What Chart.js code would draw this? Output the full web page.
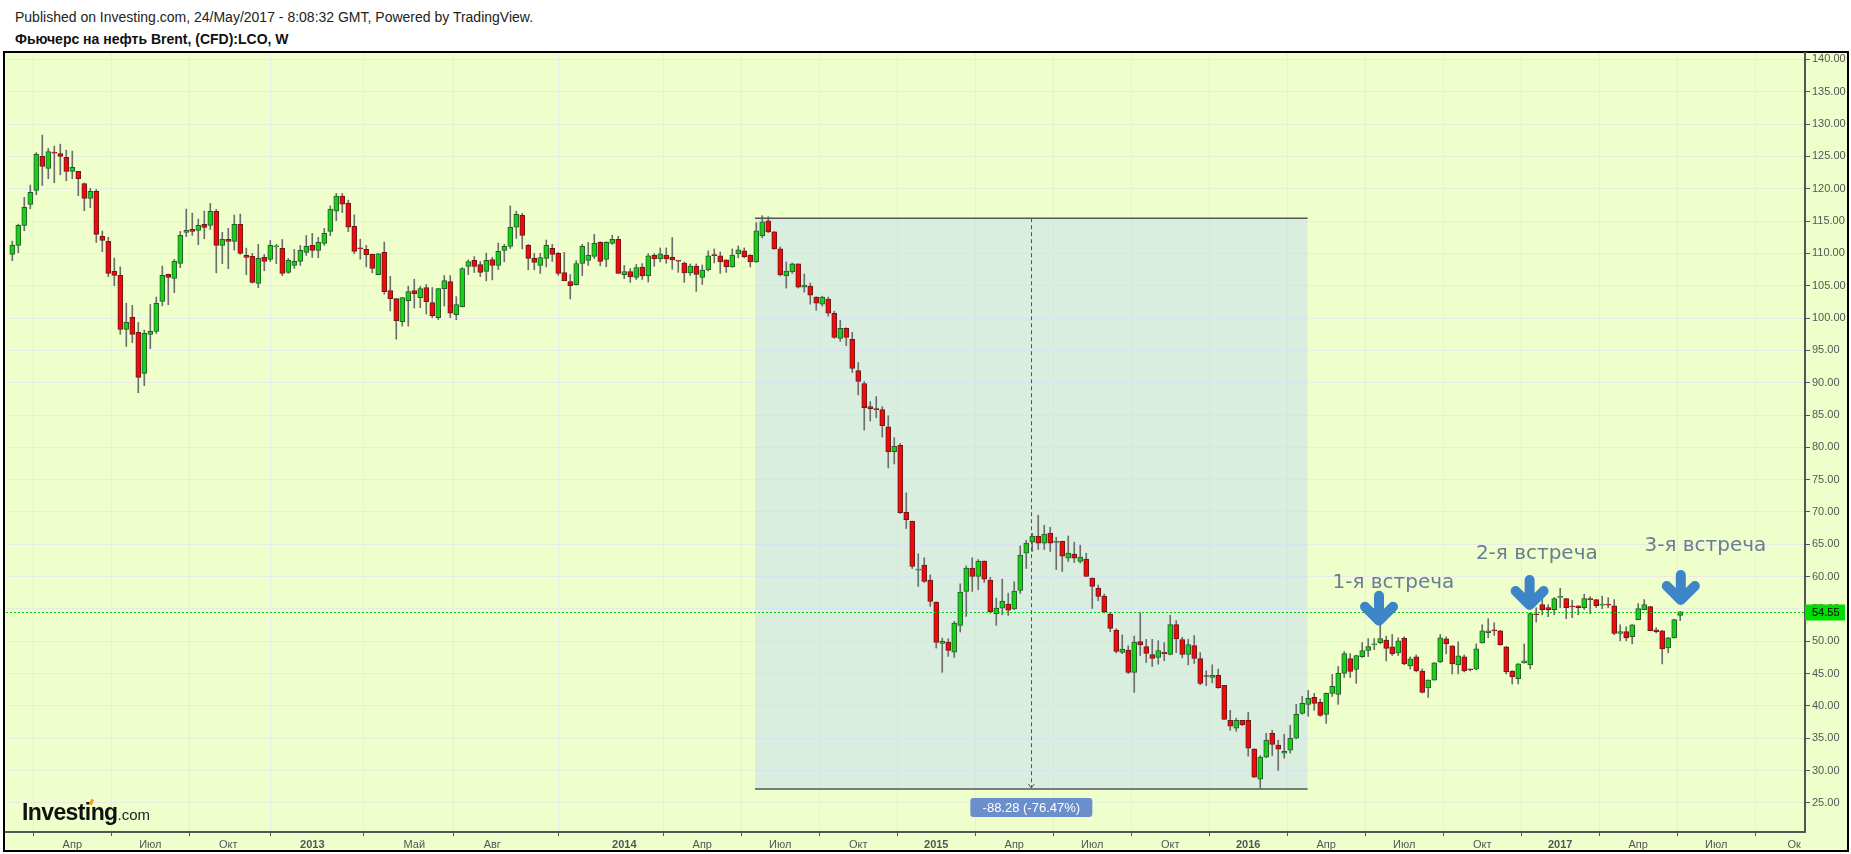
<!DOCTYPE html>
<html><head><meta charset="utf-8">
<script src="https://cdn.jsdelivr.net/npm/chart.js@4.4.0/dist/chart.umd.min.js"></script>
<style>
html,body{margin:0;padding:0;background:#fff;width:1851px;height:854px;overflow:hidden;font-family:'Liberation Sans',Arial,sans-serif;}
#h1{position:absolute;left:15px;top:9px;font-size:14px;color:#222;white-space:nowrap;}
#h2{position:absolute;left:15px;top:31px;font-size:14px;font-weight:bold;color:#111;white-space:nowrap;}
#frame{position:absolute;left:3px;top:51px;width:1846px;height:801px;box-sizing:border-box;border:2px solid #000;background:#EEFFCC;}
#c{position:absolute;left:0;top:0;}
#logo{position:absolute;left:22px;top:799px;white-space:nowrap;z-index:5;color:#111;}
#logo b{font-family:'Liberation Sans Narrow','Liberation Sans',Arial,sans-serif;font-size:23px;font-weight:bold;letter-spacing:-0.6px;}
#logo span{font-family:'Liberation Sans Narrow','Liberation Sans',Arial,sans-serif;font-size:15px;color:#222;}
#logo i{position:absolute;left:68px;top:0px;width:3px;height:6px;background:#F39C12;transform:rotate(25deg);}
</style></head>
<body>
<div id="h1">Published on Investing.com, 24/May/2017 - 8:08:32 GMT, Powered by TradingView.</div>
<div id="h2">Фьючерс на нефть Brent, (CFD):LCO, W</div>
<div id="frame"></div>
<canvas id="c" width="1851" height="854"></canvas>
<div id="logo"><b>Investing</b><span>.com</span><i></i></div>
<script>
// Weekly candles, week 0 = week of 23 Jan 2012
const open = [109.85,111.24,114.33,117.58,119.74,125.0,123.15,125.6,125.46,124.85,122.68,122.68,120.82,118.5,119.59,112.63,111.86,107.22,106.6,98.25,100.1,97.78,91.44,97.47,97.94,102.58,106.75,106.13,108.45,113.25,113.71,113.56,114.48,114.33,116.5,111.24,112.16,111.86,114.48,109.69,109.54,105.36,109.38,109.07,111.0,110.77,107.06,108.14,108.76,110.16,111.24,110.46,111.55,113.42,116.53,118.86,117.77,114.2,110.8,110.62,109.84,106.73,110.15,104.25,103.0,99.43,102.69,104.25,103.16,104.72,102.38,100.05,104.56,105.64,100.51,101.76,107.98,108.91,108.29,107.2,109.06,108.13,110.46,111.09,114.04,115.9,111.24,109.22,108.13,109.22,110.77,110.0,107.05,105.64,105.18,108.44,108.91,109.53,111.7,109.06,111.55,112.17,106.73,107.2,106.27,107.9,106.5,109.76,109.14,109.76,109.45,108.83,108.52,106.97,108.05,106.29,107.43,109.75,109.61,108.99,107.9,109.92,110.39,109.76,108.68,112.72,115.05,113.34,110.7,106.5,107.12,108.37,104.79,104.95,103.23,102.15,102.92,100.75,96.86,98.42,96.71,91.89,89.87,86.29,85.98,85.83,83.18,79.34,80.32,69.96,68.57,61.0,61.78,59.46,56.06,49.68,49.88,48.33,52.46,57.71,61.31,60.02,62.4,59.46,54.26,55.14,55.75,54.99,57.86,63.63,65.33,66.26,65.18,66.72,65.3,65.48,62.86,63.48,62.34,62.7,59.77,58.22,56.99,54.21,51.74,48.28,48.64,45.2,49.96,49.19,47.95,47.49,48.3,47.96,52.58,50.27,47.96,49.34,47.34,44.6,44.41,44.72,43.18,37.78,36.55,37.78,37.78,33.31,28.68,32.08,35.78,33.93,32.69,33.15,35.0,38.86,40.25,41.32,40.55,38.7,41.94,41.79,45.03,47.34,45.64,47.62,48.57,49.45,49.8,50.2,49.14,48.21,50.44,46.19,47.6,45.41,42.77,44.0,46.81,50.39,49.3,46.34,47.59,45.7,45.67,49.76,51.32,51.7,51.63,49.14,45.41,44.22,46.65,46.34,54.15,55.67,55.2,54.9,56.8,56.6,55.4,55.5,55.2,56.6,56.45,55.6,55.7,55.5,51.2,51.5,50.7,53.34,54.9,55.36,51.79,51.63,48.99,50.54,54.0];
const high = [111.9,114.54,118.66,120.57,125.6,128.3,126.24,126.6,126.9,125.98,125.83,122.7,120.9,120.05,119.9,113.45,112.5,109.28,107.9,102.3,101.96,99.33,98.14,102.1,103.25,108.04,106.8,109.07,113.4,116.86,116.24,115.31,116.55,117.73,116.8,113.25,113.87,115.93,116.08,110.82,110.0,111.39,109.85,112.0,111.39,112.16,109.23,110.62,111.24,112.78,113.1,112.47,113.87,117.35,119.27,119.27,118.24,115.96,112.2,111.24,109.9,110.0,111.76,106.47,103.0,103.2,104.92,106.0,104.92,105.18,104.72,104.6,106.58,106.58,103.31,107.8,109.0,109.5,108.75,110.05,109.4,111.6,111.4,117.35,116.53,116.2,111.4,110.0,110.0,112.07,111.4,110.15,110.15,106.73,108.9,111.4,111.7,112.95,111.8,111.8,112.8,112.64,108.13,107.66,108.29,108.42,109.97,109.97,110.85,110.85,112.46,108.85,108.68,108.37,108.37,108.21,110.39,110.7,110.23,109.0,110.7,111.16,110.85,109.8,114.74,115.83,115.67,113.4,111.01,108.68,108.52,108.4,106.81,105.41,103.3,103.39,103.23,101.06,99.66,98.5,97.79,93.13,90.18,87.07,87.85,86.29,84.89,81.5,80.6,72.95,68.6,63.53,62.91,60.28,56.1,50.5,50.4,53.08,58.89,61.67,62.91,62.65,62.45,59.9,56.68,59.61,57.45,59.2,64.77,65.6,66.7,69.5,67.95,67.64,66.1,65.5,66.3,65.33,64.87,63.63,59.8,58.7,57.3,54.5,51.95,51.0,49.3,50.81,54.43,50.3,50.3,50.1,49.8,54.02,53.2,50.63,50.3,50.88,48.26,45.44,46.36,45.7,43.2,39.32,38.1,37.8,39.01,33.4,32.33,35.78,36.24,34.7,35.62,37.01,40.25,41.47,42.4,41.94,41.07,42.0,44.87,46.1,48.42,48.1,47.85,49.8,50.42,50.42,52.78,50.8,51.06,50.54,50.7,47.6,47.9,45.72,44.05,46.7,51.06,50.7,49.3,49.92,47.9,45.7,49.6,52.56,53.5,52.87,51.7,49.2,45.45,46.55,49.6,54.4,55.2,57.74,55.67,56.76,58.2,56.6,56.35,55.5,57.28,56.9,56.45,56.97,56.76,56.45,52.56,52.25,52.6,55.83,56.45,55.4,52.1,51.7,50.6,53.4,54.6];
const low = [108.86,110.1,113.5,116.9,119.07,120.5,121.55,120.93,122.16,121.24,121.55,118.92,116.6,117.06,111.7,110.26,106.4,105.0,97.47,95.6,96.2,88.45,89.54,95.26,97.63,101.9,102.06,103.92,107.8,112.6,112.78,111.34,112.27,113.71,107.0,108.4,107.63,110.5,109.85,106.7,105.4,104.69,107.32,108.76,108.4,106.55,106.9,107.68,108.14,109.69,109.38,109.33,111.24,112.74,115.07,116.32,113.37,109.95,109.1,107.92,107.0,106.7,103.68,101.1,96.73,98.75,98.75,101.55,101.6,100.62,100.05,99.74,101.86,100.05,99.74,101.7,106.73,107.05,106.42,105.75,105.9,107.5,108.7,110.77,112.33,110.7,107.46,107.46,106.89,107.92,108.75,106.58,105.8,102.95,105.1,106.58,108.13,109.22,108.08,107.92,111.4,106.89,106.1,105.5,105.96,105.98,105.57,108.0,108.68,108.47,107.54,107.07,105.52,106.6,104.12,105.2,107.28,108.52,106.91,107.07,107.85,109.3,109.3,107.9,108.6,112.41,113.2,110.6,106.5,104.63,106.91,104.63,104.01,102.15,101.21,101.84,100.28,96.86,96.4,95.72,91.58,88.1,82.67,84.06,84.58,81.58,76.81,77.43,69.76,67.44,61.26,58.48,59.1,55.39,48.95,45.2,47.67,47.51,51.43,53.85,57.71,57.97,59.1,54.37,52.46,54.1,54.0,54.9,57.4,61.26,63.9,64.2,64.2,63.9,61.1,60.8,62.34,62.19,62.09,60.0,55.08,56.27,54.37,51.48,48.18,48.1,45.0,42.11,47.8,46.72,46.1,46.46,46.98,47.9,48.26,47.44,46.36,46.57,43.28,43.12,43.54,42.71,37.9,36.24,36.08,36.96,32.23,28.9,27.3,32.0,32.33,30.02,31.92,32.69,34.9,38.7,38.4,39.32,38.4,37.3,41.47,40.25,44.4,44.4,43.5,47.5,47.65,48.7,49.6,46.97,47.8,47.8,46.35,45.72,45.26,42.0,41.32,44.0,46.7,48.05,44.95,44.95,45.26,45.4,45.6,49.7,50.54,50.9,49.4,44.95,43.4,43.4,46.6,45.72,52.97,54.1,53.8,54.1,55.2,53.5,53.65,54.1,54.9,54.27,55.2,55.05,55.2,51.0,50.07,50.07,49.6,53.3,54.85,51.6,51.3,46.5,48.21,50.5,53.2];
const close = [111.29,114.33,117.11,119.43,125.31,123.45,125.77,125.5,125.0,122.68,123.3,121.55,118.5,119.59,112.94,112.01,106.9,106.6,98.25,99.33,97.47,90.83,97.63,97.94,102.27,106.6,106.29,108.76,112.78,113.56,113.4,114.33,114.02,116.5,111.24,112.16,111.86,114.48,110.0,109.38,105.52,109.23,108.76,111.24,111.1,106.9,108.92,108.76,110.46,111.08,110.46,111.7,113.1,116.84,118.86,117.61,114.04,110.31,110.7,109.79,107.66,109.95,104.09,103.0,99.58,103.16,104.09,103.78,104.56,102.54,100.36,104.56,105.8,100.77,102.07,107.66,108.75,107.98,107.05,108.91,108.13,110.31,111.09,114.04,116.06,112.8,109.22,108.6,109.37,111.24,109.84,106.89,105.8,105.02,108.44,111.09,109.7,111.55,108.75,111.7,112.17,106.89,107.2,106.42,107.82,106.5,109.61,109.14,109.92,109.14,108.99,108.78,106.97,108.05,106.76,107.43,109.61,109.65,108.68,107.9,109.76,110.54,109.45,108.68,113.5,114.89,113.34,110.7,106.66,107.28,108.37,104.79,105.1,103.55,102.3,103.23,100.75,97.02,98.42,97.02,92.2,90.18,86.14,85.98,85.83,83.34,79.3,80.16,69.91,68.83,61.57,61.1,59.25,56.16,49.83,50.04,48.59,52.82,57.61,61.31,60.02,62.4,59.61,54.57,55.14,56.22,54.83,57.76,63.32,65.18,66.26,65.18,66.57,65.18,65.4,63.17,63.63,62.86,63.01,60.02,58.48,56.94,54.57,52.0,48.44,48.8,45.2,49.88,49.45,48.11,47.34,48.57,48.1,52.58,50.37,47.96,49.5,47.34,43.49,44.55,44.72,42.82,37.93,36.86,37.78,37.11,33.46,28.99,32.08,34.7,34.03,33.31,32.98,35.0,38.7,40.4,41.17,40.4,38.55,41.94,43.02,45.03,48.1,45.33,47.8,48.57,49.19,49.55,50.42,48.9,48.05,50.07,46.5,47.28,45.41,42.1,44.0,46.65,50.54,49.6,46.5,47.74,45.41,45.6,48.83,51.63,51.63,51.6,49.45,45.26,44.48,46.5,46.96,54.27,54.1,54.9,54.9,56.6,56.9,55.2,55.3,55.2,56.6,56.45,55.5,55.7,55.6,51.2,51.5,50.54,52.56,55.05,55.67,51.63,51.47,48.83,50.54,53.34,54.55];

// x-axis ticks (week number of first weekly bar of the month) and labels
const tickWeeks  = [10,23,36,50,67,80,102,115,128,141,154,167,180,193,206,219,232,245,258,271,284,297];
const tickLabels = ['Апр','Июл','Окт','2013','Май','Авг','2014','Апр','Июл','Окт','2015','Апр','Июл','Окт','2016','Апр','Июл','Окт','2017','Апр','Июл','Ок'];
// y-axis ticks
const priceTicks = [25,30,35,40,45,50,55,60,65,70,75,80,85,90,95,100,105,110,115,120,125,130,135,140];

// annotations
const lastPrice = 54.55;
const rangeWeeks = [123.8, 215.9];
const rangePrices = [115.44, 27.16];
const rangeLabel = '-88.28 (-76.47%)';
const noteLabels = ['1-я встреча','2-я встреча','3-я встреча'];
const noteWeeks  = [230.2, 254.1, 282.2];
const notePrices = [59.0, 63.5, 64.8];
const arrowWeeks = [227.8, 252.9, 278.1];
const arrowTipPrices = [52.4, 54.85, 55.6];

const UP = '#14D214', DOWN = '#F00A0A', UPB = '#2A5A30', DNB = '#6A1A1A';
const isUp = open.map((o,i)=> close[i] >= o);
const bodies = open.map((o,i)=>({x:i, y:[Math.min(o,close[i]), Math.max(o,close[i])]}));
const wicks = low.map((l,i)=>({x:i, y:[l, high[i]]}));

const annot = {
  id:'annot',
  beforeDatasetsDraw(chart){
    const {ctx, scales:{x,y}} = chart;
    const x0=x.getPixelForValue(rangeWeeks[0]), x1=x.getPixelForValue(rangeWeeks[1]);
    const y0=y.getPixelForValue(rangePrices[0]), y1=y.getPixelForValue(rangePrices[1]);
    ctx.save();
    ctx.fillStyle='rgba(188,212,254,0.4)';
    ctx.fillRect(x0,y0,x1-x0,y1-y0);
    ctx.restore();
  },
  afterDatasetsDraw(chart){
    const {ctx, chartArea:ca, scales:{x,y}} = chart;
    ctx.save();
    const x0=x.getPixelForValue(rangeWeeks[0]), x1=x.getPixelForValue(rangeWeeks[1]);
    const y0=y.getPixelForValue(rangePrices[0]), y1=y.getPixelForValue(rangePrices[1]);
    ctx.strokeStyle='#555'; ctx.lineWidth=1.5;
    ctx.beginPath(); ctx.moveTo(x0,y0); ctx.lineTo(x1,y0); ctx.moveTo(x0,y1); ctx.lineTo(x1,y1); ctx.stroke();
    const xm=(x0+x1)/2;
    ctx.lineWidth=1; ctx.setLineDash([4,3]);
    ctx.beginPath(); ctx.moveTo(Math.round(xm)+0.5,y0); ctx.lineTo(Math.round(xm)+0.5,y1-1); ctx.stroke();
    ctx.setLineDash([]);
    ctx.beginPath(); ctx.moveTo(xm-3,y1-5); ctx.lineTo(xm,y1-1); ctx.lineTo(xm+3,y1-5); ctx.stroke();
    const lw=122, lh=19, ly=y1+9;
    ctx.fillStyle='#6B8FCB';
    ctx.beginPath(); ctx.roundRect(xm-lw/2, ly, lw, lh, 3); ctx.fill();
    ctx.fillStyle='#fff'; ctx.font='13px "Liberation Sans", Arial, sans-serif';
    ctx.textAlign='center'; ctx.textBaseline='middle';
    ctx.fillText(rangeLabel, xm, ly+lh/2+0.5);
    const py=Math.round(y.getPixelForValue(lastPrice))+0.5;
    ctx.strokeStyle='#00CC00'; ctx.lineWidth=1; ctx.setLineDash([2,2]);
    ctx.beginPath(); ctx.moveTo(ca.left,py); ctx.lineTo(ca.right,py); ctx.stroke();
    ctx.setLineDash([]);
    ctx.fillStyle='#00DD00';
    ctx.fillRect(ca.right, py-8, 40, 16);
    ctx.fillStyle='#000'; ctx.font='11px "Liberation Sans", Arial, sans-serif';
    ctx.textAlign='left'; ctx.fillText(lastPrice.toFixed(2), ca.right+7, py+0.5);
    ctx.fillStyle='#6A7B94'; ctx.font='20px "DejaVu Sans", sans-serif'; ctx.textAlign='center';
    noteLabels.forEach((t,i)=> ctx.fillText(t, x.getPixelForValue(noteWeeks[i]), y.getPixelForValue(notePrices[i])));
    ctx.strokeStyle='#3D85C6'; ctx.lineWidth=10; ctx.lineCap='round'; ctx.lineJoin='round';
    arrowWeeks.forEach((w,i)=>{
      const ax=x.getPixelForValue(w), tip=y.getPixelForValue(arrowTipPrices[i])-5;
      ctx.beginPath();
      ctx.moveTo(ax, tip-25); ctx.lineTo(ax, tip);
      ctx.moveTo(ax-14, tip-14); ctx.lineTo(ax, tip); ctx.lineTo(ax+14, tip-14);
      ctx.stroke();
    });
    ctx.restore();
  }
};

new Chart(document.getElementById('c'), {
  type:'bar',
  data:{datasets:[
    {data:bodies, order:0, grouped:false, barThickness:5, minBarLength:1, borderWidth:1, borderSkipped:false,
     backgroundColor: isUp.map(u=>u?UP:DOWN), borderColor: isUp.map(u=>u?UPB:DNB)},
    {data:wicks, order:1, grouped:false, barThickness:1, borderWidth:0, backgroundColor:'#6E6E6E'}
  ]},
  options:{
    responsive:false, animation:false, events:[],
    layout:{padding:{left:6, top:53, right:3, bottom:3}},
    plugins:{legend:{display:false}, tooltip:{enabled:false}},
    scales:{
      x:{type:'linear', min:-1.05, max:298.8, offset:false,
        afterBuildTicks:(s)=>{ s.ticks = tickWeeks.map(v=>({value:v})); },
        afterFit:(s)=>{ s.height=19; },
        ticks:{autoSkip:false, maxRotation:0, padding:2, color:'#555',
          callback:(v,i)=> tickLabels[i],
          font:(c)=>({family:'"Liberation Sans Narrow","Liberation Sans",Arial,sans-serif', size:11, weight: /^\d{4}$/.test(tickLabels[c.index]||'')?'bold':'normal'})},
        grid:{color:'#EBEBE6', lineWidth:1, tickLength:4, tickColor:'#555'},
        border:{color:'#555', width:2}
      },
      y:{position:'right', min:20.5, max:141,
        afterBuildTicks:(s)=>{ s.ticks = priceTicks.map(v=>({value:v})); },
        afterFit:(s)=>{ s.width=43; },
        ticks:{padding:2, color:'#555', font:{family:'"Liberation Sans",Arial,sans-serif', size:11}, callback:(v)=>Number(v).toFixed(2)},
        grid:{color:'#EBEBE6', lineWidth:1, tickLength:5, tickColor:'#555'},
        border:{color:'#555', width:2}
      }
    }
  },
  plugins:[annot]
});
</script>
</body></html>
